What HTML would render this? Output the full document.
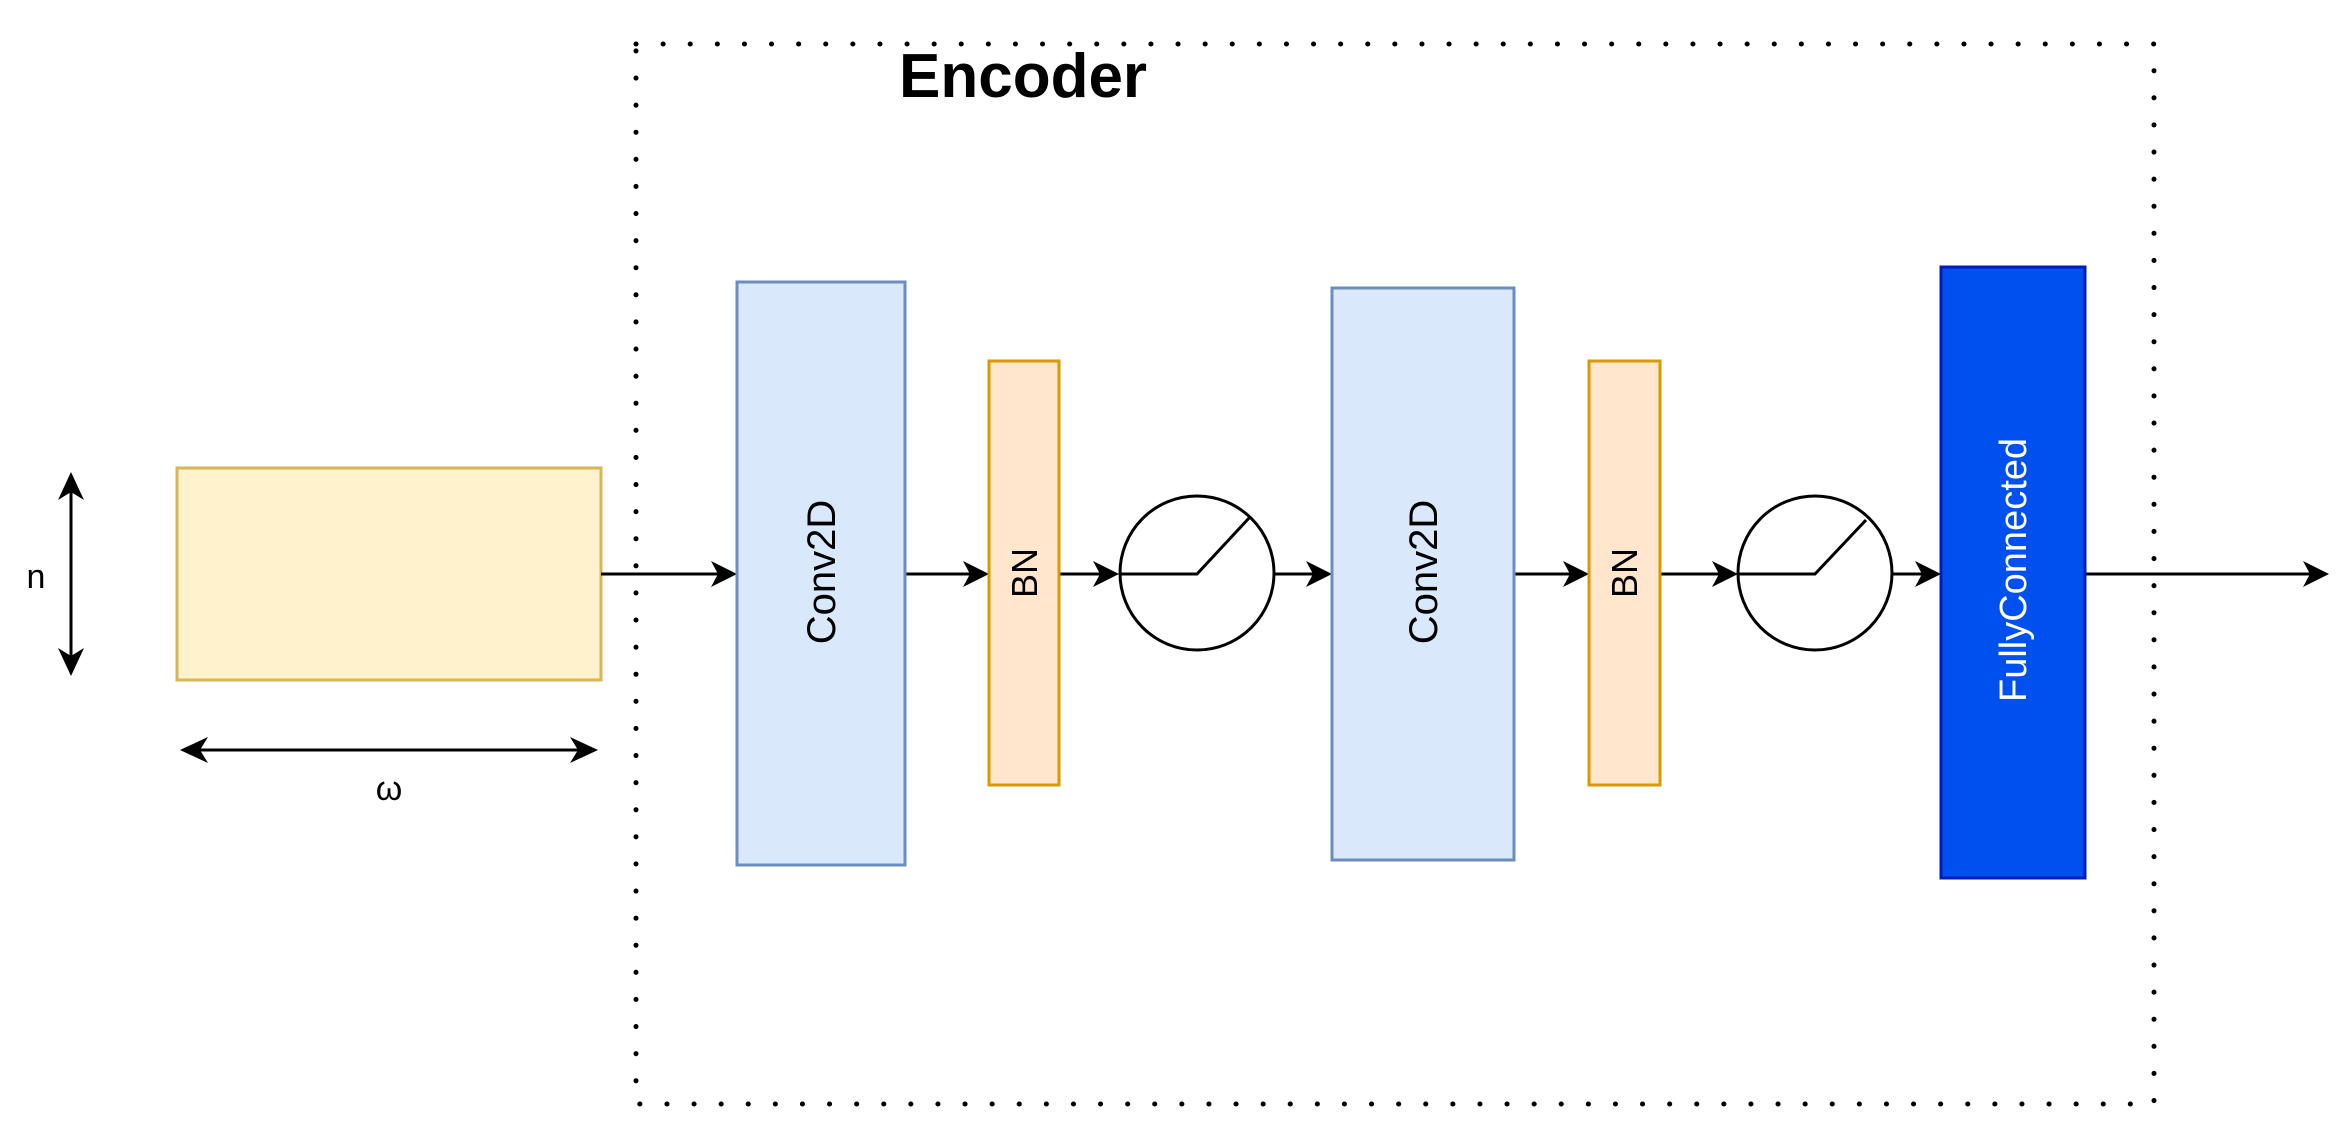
<!DOCTYPE html>
<html><head><meta charset="utf-8"><style>
html,body{margin:0;padding:0;background:#fff;}
svg{display:block;}
text{font-family:"Liberation Sans",sans-serif;}
</style></head><body>
<svg width="2347" height="1142" viewBox="0 0 2347 1142" xmlns="http://www.w3.org/2000/svg">
<defs>
<marker id="a" markerWidth="10" markerHeight="10" refX="9" refY="5" orient="auto" markerUnits="userSpaceOnUse" viewBox="0 0 10 10">
</marker>
</defs>
<!-- dotted encoder box -->
<rect x="636" y="44" width="1518" height="1060" fill="none" stroke="#000" stroke-width="5" stroke-dasharray="0.1 27" stroke-linecap="round"/>
<text x="899" y="97" font-size="62" font-weight="bold">Encoder</text>

<!-- input -->
<rect x="177" y="468" width="424" height="212" fill="#fff2cc" stroke="#d6b656" stroke-width="3"/>
<line x1="71" y1="485" x2="71" y2="663" stroke="#000" stroke-width="3"/>
<polygon points="71,472 58,500 71,492 84,500" fill="#000"/>
<polygon points="71,676 58,648 71,656 84,648" fill="#000"/>
<text x="36" y="588" font-size="34" text-anchor="middle">n</text>
<line x1="192" y1="750" x2="586" y2="750" stroke="#000" stroke-width="3"/>
<polygon points="180,750 208,737 200,750 208,763" fill="#000"/>
<polygon points="598,750 570,737 578,750 570,763" fill="#000"/>
<text x="389" y="800" font-size="34" text-anchor="middle">ω</text>

<!-- connectors -->
<g stroke="#000" stroke-width="3">
<line x1="601" y1="574" x2="725" y2="574"/>
<line x1="905" y1="574" x2="977" y2="574"/>
<line x1="1059" y1="574" x2="1107" y2="574"/>
<line x1="1275" y1="574" x2="1320" y2="574"/>
<line x1="1514" y1="574" x2="1577" y2="574"/>
<line x1="1660" y1="574" x2="1726" y2="574"/>
<line x1="1891" y1="574" x2="1929" y2="574"/>
<line x1="2085" y1="574" x2="2317" y2="574"/>
</g>
<g fill="#000">
<polygon points="737,574 711,561 718,574 711,587"/>
<polygon points="989,574 963,561 970,574 963,587"/>
<polygon points="1119,574 1093,561 1100,574 1093,587"/>
<polygon points="1332,574 1306,561 1313,574 1306,587"/>
<polygon points="1589,574 1563,561 1570,574 1563,587"/>
<polygon points="1738,574 1712,561 1719,574 1712,587"/>
<polygon points="1941,574 1915,561 1922,574 1915,587"/>
<polygon points="2329,574 2303,561 2310,574 2303,587"/>
</g>

<!-- conv1 -->
<rect x="737" y="282" width="168" height="583" fill="#dae8fc" stroke="#6c8ebf" stroke-width="3"/>
<text transform="translate(835,572) rotate(-90)" font-size="40" text-anchor="middle">Conv2D</text>
<!-- bn1 -->
<rect x="989" y="361" width="70" height="424" fill="#ffe6cc" stroke="#d79b00" stroke-width="3"/>
<text transform="translate(1037,573) rotate(-90)" font-size="36" text-anchor="middle">BN</text>
<!-- relu1 -->
<circle cx="1197" cy="573" r="77" fill="#fff" stroke="#000" stroke-width="3"/>
<polyline points="1120,574 1197,574 1250,517" fill="none" stroke="#000" stroke-width="3"/>
<!-- conv2 -->
<rect x="1332" y="288" width="182" height="572" fill="#dae8fc" stroke="#6c8ebf" stroke-width="3"/>
<text transform="translate(1437,572) rotate(-90)" font-size="40" text-anchor="middle">Conv2D</text>
<!-- bn2 -->
<rect x="1589" y="361" width="71" height="424" fill="#ffe6cc" stroke="#d79b00" stroke-width="3"/>
<text transform="translate(1637,573) rotate(-90)" font-size="36" text-anchor="middle">BN</text>
<!-- relu2 -->
<circle cx="1815" cy="573" r="77" fill="#fff" stroke="#000" stroke-width="3"/>
<polyline points="1739,574 1815,574 1866,520" fill="none" stroke="#000" stroke-width="3"/>
<!-- FC -->
<rect x="1941" y="267" width="144" height="611" fill="#0050ef" stroke="#001dbc" stroke-width="3"/>
<text transform="translate(2026,570) rotate(-90)" font-size="38" text-anchor="middle" fill="#fff">FullyConnected</text>
</svg>
</body></html>
